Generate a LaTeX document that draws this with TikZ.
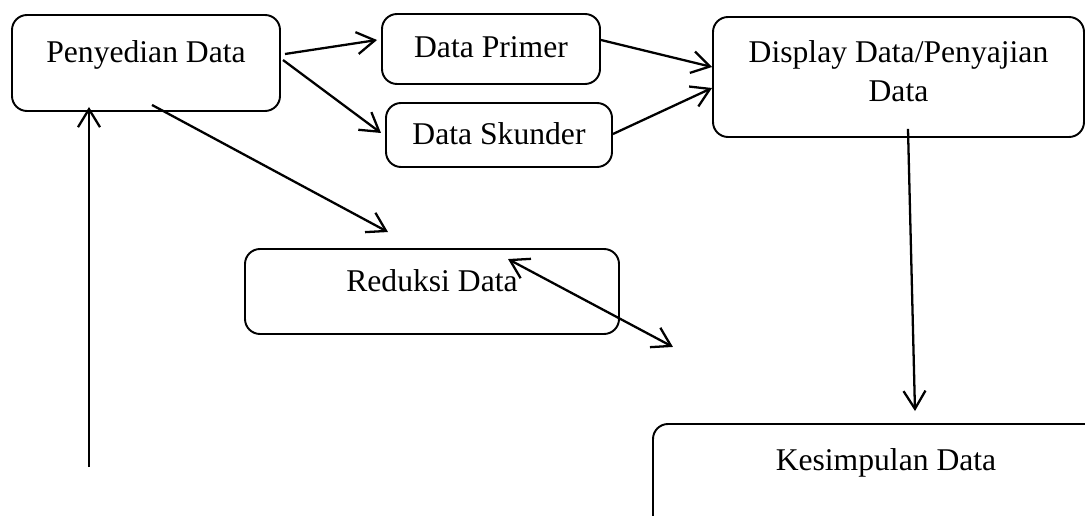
\documentclass[tikz,border=0pt]{standalone}
\usepackage{fontspec}
\setmainfont{Liberation Serif}
\usepackage{tikz}
\usetikzlibrary{arrows.meta,positioning}
\newcommand{\boxradius}{3mm}
\newcommand{\barbsize}{length=3.6mm, width=4.4mm}
\tikzset{
    block/.style = { draw, line width=1.1pt, rectangle, align=center,
        rounded corners=\boxradius,
        font=\fontsize{18}{22.2}\selectfont,
        text height=0.45cm,
        inner sep=0pt
    },
    arrow/.style = { line width=1.3pt, -{Straight Barb[\barbsize]} },
    darrow/.style = { line width=1.3pt, {Straight Barb[\barbsize]}-{Straight Barb[\barbsize]} }
}
\begin{document}
\begin{tikzpicture}
        \useasboundingbox (0,0) rectangle (21.7,10.3);

        % top row...
        \node[block, minimum width=5.36cm, minimum height=1.92cm, text depth=0.45cm] (pen) at (2.92,9.04) {Penyedian Data};
        \node[block, minimum width=4.36cm, minimum height=1.4cm, text depth=0.09cm] (primer) at (9.82,9.32) {Data Primer};
        \node[block, minimum width=4.52cm, minimum height=1.28cm, text depth=0.05cm] (skunder) at (9.98,7.6) {Data Skunder};
        \node[block, minimum width=7.42cm, minimum height=2.4cm, text height=1.23cm, text depth=0.23cm] (display) at (17.97,8.76) {Display Data/Penyajian\\Data};
        % middle and bottom...
        \node[block, minimum width=7.48cm, minimum height=1.7cm, text depth=0.45cm] (reduksi) at (8.64,4.47) {Reduksi Data};
        \node[block, minimum width=9.32cm, minimum height=2.42cm, text depth=1.03cm] (kesimpulan) at (17.72,0.61) {Kesimpulan Data};

        \coordinate (loop) at (1.78,0.96);
        \coordinate (rin) at ([xshift=1.52cm,yshift=-0.22cm]reduksi.north);
        \coordinate (rout) at ([xshift=1.06cm,yshift=-0.24cm]reduksi.south east);

        % arrows...
        \draw[arrow] ([xshift=0.08cm,yshift=0.18cm]pen.east) -- ([xshift=-0.08cm,yshift=0.18cm]primer.west);
        \draw[arrow] ([xshift=0.04cm,yshift=0.06cm]pen.east) -- ([xshift=-0.08cm,yshift=0.04cm]skunder.west);
        \draw[arrow] ([xshift=0.12cm,yshift=0.14cm]pen.south) -- ([xshift=-0.88cm,yshift=0.32cm]reduksi.north);
        \draw[arrow] ([yshift=0.18cm]primer.east) -- ([yshift=0.2cm]display.west);
        \draw[arrow] ([yshift=0.02cm]skunder.east) -- ([yshift=-0.22cm]display.west);
        \draw[arrow] ([xshift=0.19cm,yshift=0.18cm]display.south) -- ([xshift=0.58cm,yshift=0.24cm]kesimpulan.north);
        \draw[darrow] (rin) -- (rout);
        \draw[arrow] (loop) -- ([xshift=-1.14cm,yshift=0.1cm]pen.south);

\end{tikzpicture}
\end{document}
